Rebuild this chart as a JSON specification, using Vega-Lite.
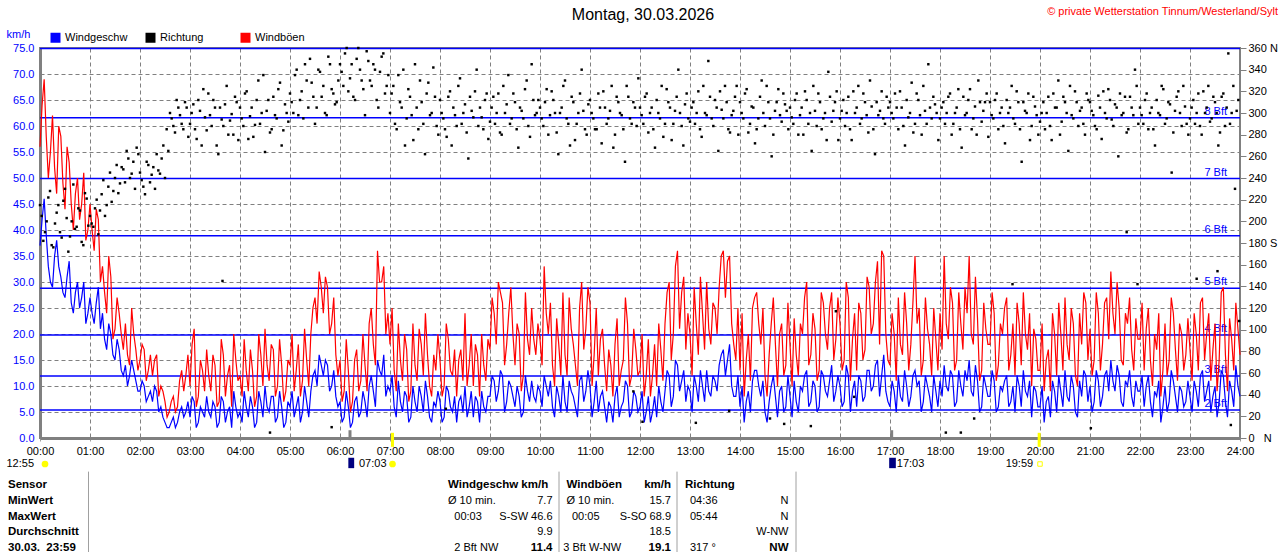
{
  "$schema": "https://vega.github.io/schema/vega-lite/v6.json",
  "width": 1200,
  "height": 390,
  "autosize": {"type": "none"},
  "padding": {"left": 40, "top": 48, "right": 40, "bottom": 114},
  "background": "#ffffff",
  "config": {
    "font": "Liberation Sans",
    "view": {"stroke": "#808080", "strokeWidth": 2},
    "axis": {"labelFont": "Liberation Sans", "titleFont": "Liberation Sans"},
    "text": {"font": "Liberation Sans"}
  },
  "datasets": {
    "bft": [
      {"v": 5.4, "l": "2 Bft"}, {"v": 11.9, "l": "3 Bft"}, {"v": 19.8, "l": "4 Bft"}, {"v": 28.8, "l": "5 Bft"},
      {"v": 38.9, "l": "6 Bft"}, {"v": 49.9, "l": "7 Bft"}, {"v": 61.6, "l": "8 Bft"}, {"v": 74.9, "l": ""}
    ],
    "wind": [
      {"m":0,"s":37,"g":56},{"m":5,"s":46,"g":69},{"m":10,"s":33,"g":50},{"m":15,"s":29,"g":62},{"m":20,"s":38,"g":47},{"m":25,"s":31,"g":58},{"m":30,"s":27,"g":44},{"m":35,"s":34,"g":53},{"m":40,"s":24,"g":40},{"m":45,"s":30,"g":50},{"m":50,"s":27,"g":45},{"m":55,"s":22,"g":38},
      {"m":60,"s":27,"g":45},{"m":65,"s":22,"g":36},{"m":70,"s":29,"g":42},{"m":75,"s":24,"g":33},{"m":80,"s":17,"g":24},{"m":85,"s":20,"g":31},{"m":90,"s":15,"g":21},{"m":95,"s":17,"g":24},{"m":100,"s":12,"g":17},{"m":105,"s":10,"g":16},{"m":110,"s":15,"g":25},{"m":115,"s":11,"g":17},
      {"m":120,"s":9,"g":15},{"m":125,"s":10,"g":17},{"m":130,"s":8,"g":13},{"m":135,"s":7,"g":12},{"m":140,"s":9,"g":16},{"m":145,"s":6,"g":10},{"m":150,"s":3,"g":7},{"m":155,"s":2,"g":5},{"m":160,"s":4,"g":8},{"m":165,"s":3,"g":6},{"m":170,"s":6,"g":13},{"m":175,"s":5,"g":12},
      {"m":180,"s":4,"g":10},{"m":185,"s":7,"g":21},{"m":190,"s":3,"g":8},{"m":195,"s":5,"g":13},{"m":200,"s":8,"g":17},{"m":205,"s":4,"g":9},{"m":210,"s":6,"g":14},{"m":215,"s":3,"g":7},{"m":220,"s":7,"g":16},{"m":225,"s":5,"g":12},{"m":230,"s":2,"g":6},{"m":235,"s":6,"g":15},
      {"m":240,"s":5,"g":12},{"m":245,"s":9,"g":19},{"m":250,"s":4,"g":9},{"m":255,"s":6,"g":13},{"m":260,"s":3,"g":8},{"m":265,"s":7,"g":16},{"m":270,"s":10,"g":21},{"m":275,"s":5,"g":11},{"m":280,"s":8,"g":17},{"m":285,"s":4,"g":10},{"m":290,"s":6,"g":14},{"m":295,"s":3,"g":9},
      {"m":300,"s":6,"g":14},{"m":305,"s":4,"g":9},{"m":310,"s":8,"g":18},{"m":315,"s":5,"g":11},{"m":320,"s":7,"g":15},{"m":325,"s":9,"g":20},{"m":330,"s":13,"g":27},{"m":335,"s":16,"g":32},{"m":340,"s":12,"g":24},{"m":345,"s":14,"g":29},{"m":350,"s":10,"g":22},{"m":355,"s":8,"g":16},
      {"m":360,"s":7,"g":15},{"m":365,"s":4,"g":9},{"m":370,"s":6,"g":13},{"m":375,"s":3,"g":7},{"m":380,"s":8,"g":17},{"m":385,"s":5,"g":11},{"m":390,"s":7,"g":14},{"m":395,"s":10,"g":22},{"m":400,"s":9,"g":18},{"m":405,"s":15,"g":36},{"m":410,"s":12,"g":30},{"m":415,"s":8,"g":20},
      {"m":420,"s":9,"g":18},{"m":425,"s":6,"g":13},{"m":430,"s":11,"g":22},{"m":435,"s":5,"g":11},{"m":440,"s":8,"g":17},{"m":445,"s":4,"g":9},{"m":450,"s":7,"g":14},{"m":455,"s":10,"g":21},{"m":460,"s":5,"g":12},{"m":465,"s":8,"g":16},{"m":470,"s":3,"g":8},{"m":475,"s":6,"g":13},
      {"m":480,"s":7,"g":15},{"m":485,"s":4,"g":10},{"m":490,"s":9,"g":19},{"m":495,"s":5,"g":12},{"m":500,"s":3,"g":8},{"m":505,"s":8,"g":17},{"m":510,"s":10,"g":24},{"m":515,"s":6,"g":14},{"m":520,"s":4,"g":10},{"m":525,"s":7,"g":16},{"m":530,"s":9,"g":20},{"m":535,"s":5,"g":11},
      {"m":540,"s":8,"g":17},{"m":545,"s":11,"g":24},{"m":550,"s":9,"g":30},{"m":555,"s":12,"g":26},{"m":560,"s":7,"g":18},{"m":565,"s":10,"g":29},{"m":570,"s":6,"g":14},{"m":575,"s":8,"g":20},{"m":580,"s":5,"g":12},{"m":585,"s":9,"g":19},{"m":590,"s":11,"g":25},{"m":595,"s":7,"g":16},
      {"m":600,"s":9,"g":19},{"m":605,"s":12,"g":33},{"m":610,"s":8,"g":20},{"m":615,"s":6,"g":14},{"m":620,"s":10,"g":23},{"m":625,"s":5,"g":12},{"m":630,"s":7,"g":16},{"m":635,"s":11,"g":27},{"m":640,"s":8,"g":18},{"m":645,"s":4,"g":10},{"m":650,"s":12,"g":30},{"m":655,"s":9,"g":21},
      {"m":660,"s":10,"g":26},{"m":665,"s":7,"g":16},{"m":670,"s":5,"g":12},{"m":675,"s":9,"g":21},{"m":680,"s":3,"g":9},{"m":685,"s":6,"g":14},{"m":690,"s":8,"g":18},{"m":695,"s":4,"g":10},{"m":700,"s":7,"g":15},{"m":705,"s":10,"g":22},{"m":710,"s":5,"g":12},{"m":715,"s":8,"g":17},
      {"m":720,"s":6,"g":13},{"m":725,"s":3,"g":8},{"m":730,"s":8,"g":19},{"m":735,"s":5,"g":12},{"m":740,"s":4,"g":10},{"m":745,"s":7,"g":17},{"m":750,"s":9,"g":22},{"m":755,"s":12,"g":30},{"m":760,"s":8,"g":20},{"m":765,"s":14,"g":36},{"m":770,"s":11,"g":28},{"m":775,"s":7,"g":17},
      {"m":780,"s":9,"g":20},{"m":785,"s":12,"g":29},{"m":790,"s":7,"g":16},{"m":795,"s":10,"g":24},{"m":800,"s":13,"g":30},{"m":805,"s":8,"g":18},{"m":810,"s":11,"g":25},{"m":815,"s":14,"g":29},{"m":820,"s":17,"g":36},{"m":825,"s":15,"g":34},{"m":830,"s":10,"g":22},{"m":835,"s":8,"g":15},
      {"m":840,"s":6,"g":13},{"m":845,"s":3,"g":8},{"m":850,"s":9,"g":20},{"m":855,"s":11,"g":25},{"m":860,"s":13,"g":28},{"m":865,"s":8,"g":18},{"m":870,"s":5,"g":12},{"m":875,"s":7,"g":16},{"m":880,"s":12,"g":27},{"m":885,"s":4,"g":10},{"m":890,"s":10,"g":22},{"m":895,"s":6,"g":14},
      {"m":900,"s":8,"g":18},{"m":905,"s":11,"g":23},{"m":910,"s":5,"g":12},{"m":915,"s":9,"g":20},{"m":920,"s":13,"g":30},{"m":925,"s":7,"g":16},{"m":930,"s":10,"g":21},{"m":935,"s":6,"g":13},{"m":940,"s":12,"g":26},{"m":945,"s":8,"g":17},{"m":950,"s":14,"g":28},{"m":955,"s":9,"g":19},
      {"m":960,"s":10,"g":22},{"m":965,"s":7,"g":15},{"m":970,"s":12,"g":27},{"m":975,"s":9,"g":19},{"m":980,"s":6,"g":13},{"m":985,"s":11,"g":24},{"m":990,"s":8,"g":17},{"m":995,"s":13,"g":29},{"m":1000,"s":10,"g":22},{"m":1005,"s":15,"g":34},{"m":1010,"s":12,"g":36},{"m":1015,"s":9,"g":20},
      {"m":1020,"s":6,"g":14},{"m":1025,"s":9,"g":20},{"m":1030,"s":12,"g":27},{"m":1035,"s":7,"g":16},{"m":1040,"s":10,"g":22},{"m":1045,"s":8,"g":18},{"m":1050,"s":13,"g":35},{"m":1055,"s":11,"g":25},{"m":1060,"s":7,"g":15},{"m":1065,"s":10,"g":21},{"m":1070,"s":5,"g":12},{"m":1075,"s":9,"g":19},
      {"m":1080,"s":11,"g":24},{"m":1085,"s":14,"g":35},{"m":1090,"s":9,"g":19},{"m":1095,"s":12,"g":26},{"m":1100,"s":7,"g":15},{"m":1105,"s":10,"g":22},{"m":1110,"s":13,"g":29},{"m":1115,"s":15,"g":35},{"m":1120,"s":8,"g":18},{"m":1125,"s":11,"g":23},{"m":1130,"s":6,"g":13},{"m":1135,"s":10,"g":21},
      {"m":1140,"s":8,"g":18},{"m":1145,"s":11,"g":24},{"m":1150,"s":6,"g":14},{"m":1155,"s":9,"g":20},{"m":1160,"s":12,"g":27},{"m":1165,"s":7,"g":16},{"m":1170,"s":5,"g":12},{"m":1175,"s":10,"g":22},{"m":1180,"s":13,"g":28},{"m":1185,"s":8,"g":17},{"m":1190,"s":4,"g":10},{"m":1195,"s":9,"g":19},
      {"m":1200,"s":6,"g":13},{"m":1205,"s":3,"g":9},{"m":1210,"s":8,"g":17},{"m":1215,"s":11,"g":24},{"m":1220,"s":5,"g":12},{"m":1225,"s":9,"g":20},{"m":1230,"s":13,"g":27},{"m":1235,"s":7,"g":15},{"m":1240,"s":10,"g":22},{"m":1245,"s":4,"g":10},{"m":1250,"s":8,"g":18},{"m":1255,"s":12,"g":26},
      {"m":1260,"s":10,"g":21},{"m":1265,"s":7,"g":15},{"m":1270,"s":11,"g":24},{"m":1275,"s":8,"g":18},{"m":1280,"s":13,"g":27},{"m":1285,"s":15,"g":32},{"m":1290,"s":9,"g":20},{"m":1295,"s":12,"g":25},{"m":1300,"s":6,"g":14},{"m":1305,"s":10,"g":22},{"m":1310,"s":8,"g":17},{"m":1315,"s":11,"g":23},
      {"m":1320,"s":9,"g":19},{"m":1325,"s":6,"g":13},{"m":1330,"s":12,"g":25},{"m":1335,"s":4,"g":10},{"m":1340,"s":8,"g":17},{"m":1345,"s":3,"g":8},{"m":1350,"s":10,"g":22},{"m":1355,"s":7,"g":15},{"m":1360,"s":11,"g":24},{"m":1365,"s":5,"g":11},{"m":1370,"s":9,"g":20},{"m":1375,"s":7,"g":16},
      {"m":1380,"s":8,"g":17},{"m":1385,"s":11,"g":24},{"m":1390,"s":6,"g":13},{"m":1395,"s":13,"g":27},{"m":1400,"s":9,"g":20},{"m":1405,"s":5,"g":11},{"m":1410,"s":10,"g":22},{"m":1415,"s":7,"g":15},{"m":1420,"s":12,"g":29},{"m":1425,"s":4,"g":9},{"m":1430,"s":9,"g":19},{"m":1435,"s":14,"g":26},{"m":1440,"s":8,"g":16},
      {"m":2.5,"s":42,"g":64},{"m":7.5,"s":39,"g":58},{"m":12.5,"s":30,"g":55},{"m":17.5,"s":35,"g":52},{"m":22.5,"s":33,"g":60},{"m":27.5,"s":28,"g":49},{"m":32.5,"s":31,"g":56},{"m":37.5,"s":26,"g":45},{"m":42.5,"s":28,"g":47},{"m":47.5,"s":25,"g":42},{"m":52.5,"s":30,"g":51},{"m":57.5,"s":24,"g":40},
      {"m":62.5,"s":24,"g":40},{"m":67.5,"s":26,"g":44},{"m":72.5,"s":21,"g":30},{"m":77.5,"s":19,"g":28},{"m":82.5,"s":22,"g":35},{"m":87.5,"s":16,"g":19},{"m":92.5,"s":19,"g":27},{"m":97.5,"s":13,"g":20},{"m":102.5,"s":14,"g":22},{"m":107.5,"s":12,"g":14},{"m":112.5,"s":13,"g":20},{"m":117.5,"s":9,"g":13},
      {"m":122.5,"s":11,"g":18},{"m":127.5,"s":7,"g":11},{"m":132.5,"s":9,"g":16},{"m":137.5,"s":10,"g":15},{"m":142.5,"s":5,"g":8},{"m":147.5,"s":4,"g":9},{"m":152.5,"s":2,"g":4},{"m":157.5,"s":3,"g":7},{"m":162.5,"s":2,"g":5},{"m":167.5,"s":5,"g":11},{"m":172.5,"s":4,"g":9},{"m":177.5,"s":7,"g":16},
      {"m":182.5,"s":8,"g":18},{"m":187.5,"s":2,"g":6},{"m":192.5,"s":6,"g":15},{"m":197.5,"s":4,"g":9},{"m":202.5,"s":5,"g":12},{"m":207.5,"s":7,"g":16},{"m":212.5,"s":2,"g":6},{"m":217.5,"s":8,"g":19},{"m":222.5,"s":3,"g":8},{"m":227.5,"s":6,"g":14},{"m":232.5,"s":9,"g":20},{"m":237.5,"s":4,"g":11},
      {"m":242.5,"s":3,"g":8},{"m":247.5,"s":6,"g":13},{"m":252.5,"s":8,"g":17},{"m":257.5,"s":2,"g":6},{"m":262.5,"s":9,"g":20},{"m":267.5,"s":4,"g":10},{"m":272.5,"s":6,"g":14},{"m":277.5,"s":8,"g":18},{"m":282.5,"s":3,"g":8},{"m":287.5,"s":9,"g":19},{"m":292.5,"s":2,"g":7},{"m":297.5,"s":7,"g":15},
      {"m":302.5,"s":9,"g":20},{"m":307.5,"s":6,"g":13},{"m":312.5,"s":3,"g":8},{"m":317.5,"s":10,"g":21},{"m":322.5,"s":4,"g":10},{"m":327.5,"s":12,"g":25},{"m":332.5,"s":10,"g":22},{"m":337.5,"s":14,"g":29},{"m":342.5,"s":15,"g":31},{"m":347.5,"s":9,"g":20},{"m":352.5,"s":13,"g":27},{"m":357.5,"s":6,"g":12},
      {"m":362.5,"s":3,"g":7},{"m":367.5,"s":9,"g":19},{"m":372.5,"s":2,"g":5},{"m":377.5,"s":7,"g":15},{"m":382.5,"s":4,"g":9},{"m":387.5,"s":9,"g":20},{"m":392.5,"s":4,"g":9},{"m":397.5,"s":12,"g":25},{"m":402.5,"s":6,"g":14},{"m":407.5,"s":13,"g":30},{"m":412.5,"s":16,"g":33},{"m":417.5,"s":10,"g":24},
      {"m":422.5,"s":12,"g":25},{"m":427.5,"s":4,"g":9},{"m":432.5,"s":7,"g":15},{"m":437.5,"s":9,"g":20},{"m":442.5,"s":3,"g":7},{"m":447.5,"s":10,"g":22},{"m":452.5,"s":5,"g":11},{"m":457.5,"s":8,"g":18},{"m":462.5,"s":11,"g":24},{"m":467.5,"s":4,"g":10},{"m":472.5,"s":7,"g":16},{"m":477.5,"s":9,"g":20},
      {"m":482.5,"s":3,"g":8},{"m":487.5,"s":10,"g":22},{"m":492.5,"s":6,"g":13},{"m":497.5,"s":8,"g":17},{"m":502.5,"s":7,"g":15},{"m":507.5,"s":5,"g":11},{"m":512.5,"s":4,"g":10},{"m":517.5,"s":9,"g":20},{"m":522.5,"s":8,"g":18},{"m":527.5,"s":3,"g":8},{"m":532.5,"s":6,"g":14},{"m":537.5,"s":8,"g":19},
      {"m":542.5,"s":12,"g":27},{"m":547.5,"s":7,"g":18},{"m":552.5,"s":13,"g":28},{"m":557.5,"s":5,"g":14},{"m":562.5,"s":11,"g":24},{"m":567.5,"s":8,"g":20},{"m":572.5,"s":10,"g":22},{"m":577.5,"s":4,"g":9},{"m":582.5,"s":12,"g":28},{"m":587.5,"s":7,"g":16},{"m":592.5,"s":8,"g":19},{"m":597.5,"s":10,"g":22},
      {"m":602.5,"s":6,"g":14},{"m":607.5,"s":10,"g":24},{"m":612.5,"s":11,"g":26},{"m":617.5,"s":4,"g":10},{"m":622.5,"s":8,"g":18},{"m":627.5,"s":12,"g":28},{"m":632.5,"s":5,"g":12},{"m":637.5,"s":9,"g":21},{"m":642.5,"s":6,"g":14},{"m":647.5,"s":11,"g":25},{"m":652.5,"s":7,"g":17},{"m":657.5,"s":13,"g":29},
      {"m":662.5,"s":4,"g":10},{"m":667.5,"s":11,"g":25},{"m":672.5,"s":8,"g":19},{"m":677.5,"s":6,"g":14},{"m":682.5,"s":7,"g":17},{"m":687.5,"s":3,"g":8},{"m":692.5,"s":10,"g":23},{"m":697.5,"s":6,"g":13},{"m":702.5,"s":11,"g":27},{"m":707.5,"s":4,"g":10},{"m":712.5,"s":9,"g":21},{"m":717.5,"s":5,"g":12},
      {"m":722.5,"s":9,"g":20},{"m":727.5,"s":5,"g":12},{"m":732.5,"s":3,"g":8},{"m":737.5,"s":8,"g":18},{"m":742.5,"s":10,"g":22},{"m":747.5,"s":5,"g":11},{"m":752.5,"s":13,"g":28},{"m":757.5,"s":6,"g":15},{"m":762.5,"s":15,"g":33},{"m":767.5,"s":9,"g":21},{"m":772.5,"s":13,"g":31},{"m":777.5,"s":10,"g":24},
      {"m":782.5,"s":5,"g":12},{"m":787.5,"s":10,"g":22},{"m":792.5,"s":13,"g":31},{"m":797.5,"s":7,"g":17},{"m":802.5,"s":9,"g":21},{"m":807.5,"s":12,"g":26},{"m":812.5,"s":9,"g":20},{"m":817.5,"s":16,"g":35},{"m":822.5,"s":12,"g":27},{"m":827.5,"s":18,"g":35},{"m":832.5,"s":8,"g":18},{"m":837.5,"s":12,"g":25},
      {"m":842.5,"s":10,"g":24},{"m":847.5,"s":7,"g":15},{"m":852.5,"s":5,"g":11},{"m":857.5,"s":13,"g":27},{"m":862.5,"s":10,"g":22},{"m":867.5,"s":11,"g":25},{"m":872.5,"s":3,"g":8},{"m":877.5,"s":10,"g":22},{"m":882.5,"s":8,"g":18},{"m":887.5,"s":9,"g":20},{"m":892.5,"s":5,"g":12},{"m":897.5,"s":12,"g":26},
      {"m":902.5,"s":4,"g":10},{"m":907.5,"s":7,"g":16},{"m":912.5,"s":10,"g":22},{"m":917.5,"s":12,"g":27},{"m":922.5,"s":6,"g":14},{"m":927.5,"s":11,"g":24},{"m":932.5,"s":5,"g":11},{"m":937.5,"s":13,"g":28},{"m":942.5,"s":9,"g":20},{"m":947.5,"s":11,"g":25},{"m":952.5,"s":7,"g":15},{"m":957.5,"s":12,"g":27},
      {"m":962.5,"s":6,"g":13},{"m":967.5,"s":14,"g":30},{"m":972.5,"s":5,"g":11},{"m":977.5,"s":11,"g":24},{"m":982.5,"s":12,"g":26},{"m":987.5,"s":7,"g":15},{"m":992.5,"s":13,"g":31},{"m":997.5,"s":9,"g":20},{"m":1002.5,"s":14,"g":30},{"m":1007.5,"s":8,"g":18},{"m":1012.5,"s":16,"g":35},{"m":1017.5,"s":7,"g":15},
      {"m":1022.5,"s":11,"g":24},{"m":1027.5,"s":5,"g":11},{"m":1032.5,"s":8,"g":18},{"m":1037.5,"s":13,"g":28},{"m":1042.5,"s":6,"g":13},{"m":1047.5,"s":12,"g":26},{"m":1052.5,"s":10,"g":22},{"m":1057.5,"s":5,"g":12},{"m":1062.5,"s":12,"g":27},{"m":1067.5,"s":8,"g":18},{"m":1072.5,"s":12,"g":25},{"m":1077.5,"s":6,"g":13},
      {"m":1082.5,"s":8,"g":17},{"m":1087.5,"s":10,"g":22},{"m":1092.5,"s":13,"g":29},{"m":1097.5,"s":6,"g":13},{"m":1102.5,"s":13,"g":28},{"m":1107.5,"s":8,"g":17},{"m":1112.5,"s":11,"g":24},{"m":1117.5,"s":9,"g":20},{"m":1122.5,"s":14,"g":31},{"m":1127.5,"s":5,"g":11},{"m":1132.5,"s":12,"g":26},{"m":1137.5,"s":8,"g":18},
      {"m":1142.5,"s":13,"g":28},{"m":1147.5,"s":5,"g":11},{"m":1152.5,"s":10,"g":22},{"m":1157.5,"s":11,"g":25},{"m":1162.5,"s":6,"g":13},{"m":1167.5,"s":10,"g":22},{"m":1172.5,"s":12,"g":26},{"m":1177.5,"s":6,"g":14},{"m":1182.5,"s":9,"g":20},{"m":1187.5,"s":11,"g":24},{"m":1192.5,"s":10,"g":21},{"m":1197.5,"s":6,"g":13},
      {"m":1202.5,"s":10,"g":22},{"m":1207.5,"s":7,"g":15},{"m":1212.5,"s":4,"g":9},{"m":1217.5,"s":9,"g":20},{"m":1222.5,"s":12,"g":26},{"m":1227.5,"s":6,"g":13},{"m":1232.5,"s":8,"g":18},{"m":1237.5,"s":12,"g":25},{"m":1242.5,"s":5,"g":12},{"m":1247.5,"s":11,"g":24},{"m":1252.5,"s":13,"g":28},{"m":1257.5,"s":7,"g":15},
      {"m":1262.5,"s":5,"g":12},{"m":1267.5,"s":13,"g":28},{"m":1272.5,"s":6,"g":13},{"m":1277.5,"s":12,"g":26},{"m":1282.5,"s":9,"g":19},{"m":1287.5,"s":11,"g":24},{"m":1292.5,"s":14,"g":30},{"m":1297.5,"s":7,"g":15},{"m":1302.5,"s":11,"g":24},{"m":1307.5,"s":13,"g":27},{"m":1312.5,"s":6,"g":13},{"m":1317.5,"s":9,"g":19},
      {"m":1322.5,"s":12,"g":26},{"m":1327.5,"s":10,"g":21},{"m":1332.5,"s":7,"g":15},{"m":1337.5,"s":9,"g":20},{"m":1342.5,"s":11,"g":24},{"m":1347.5,"s":6,"g":13},{"m":1352.5,"s":5,"g":12},{"m":1357.5,"s":13,"g":27},{"m":1362.5,"s":8,"g":17},{"m":1367.5,"s":10,"g":22},{"m":1372.5,"s":6,"g":13},{"m":1377.5,"s":11,"g":23},
      {"m":1382.5,"s":5,"g":11},{"m":1387.5,"s":9,"g":20},{"m":1392.5,"s":12,"g":26},{"m":1397.5,"s":7,"g":15},{"m":1402.5,"s":11,"g":24},{"m":1407.5,"s":8,"g":17},{"m":1412.5,"s":4,"g":9},{"m":1417.5,"s":13,"g":28},{"m":1422.5,"s":7,"g":16},{"m":1427.5,"s":11,"g":23},{"m":1432.5,"s":6,"g":13},{"m":1437.5,"s":10,"g":21}
    ],
    "dir": [
      {"m":2,"d":205},{"m":6,"d":190},{"m":10,"d":222},{"m":14,"d":178},{"m":18,"d":198},{"m":22,"d":215},{"m":26,"d":185},{"m":30,"d":230},{"m":34,"d":172},{"m":38,"d":200},{"m":42,"d":193},{"m":46,"d":212},{"m":50,"d":181},{"m":54,"d":226},{"m":58,"d":196},
      {"m":62,"d":198},{"m":66,"d":212},{"m":70,"d":188},{"m":74,"d":225},{"m":78,"d":205},{"m":82,"d":232},{"m":86,"d":218},{"m":90,"d":240},{"m":94,"d":226},{"m":98,"d":250},{"m":102,"d":236},{"m":106,"d":258},{"m":110,"d":244},{"m":114,"d":230},{"m":118,"d":262},
      {"m":122,"d":238},{"m":126,"d":225},{"m":130,"d":252},{"m":134,"d":243},{"m":138,"d":230},{"m":142,"d":247},{"m":146,"d":258},{"m":150,"d":240},{"m":154,"d":265},{"m":158,"d":295},{"m":162,"d":282},{"m":166,"d":305},{"m":170,"d":290},{"m":174,"d":310},{"m":178,"d":278},
      {"m":182,"d":300},{"m":186,"d":285},{"m":190,"d":312},{"m":194,"d":270},{"m":198,"d":296},{"m":202,"d":318},{"m":206,"d":288},{"m":210,"d":305},{"m":214,"d":262},{"m":218,"d":294},{"m":222,"d":308},{"m":226,"d":280},{"m":230,"d":299},{"m":234,"d":315},{"m":238,"d":275},
      {"m":242,"d":295},{"m":246,"d":318},{"m":250,"d":276},{"m":254,"d":305},{"m":258,"d":289},{"m":262,"d":330},{"m":266,"d":300},{"m":270,"d":264},{"m":274,"d":312},{"m":278,"d":285},{"m":282,"d":298},{"m":286,"d":322},{"m":290,"d":270},{"m":294,"d":308},{"m":298,"d":292},
      {"m":302,"d":310},{"m":306,"d":335},{"m":310,"d":298},{"m":314,"d":320},{"m":318,"d":345},{"m":322,"d":305},{"m":326,"d":328},{"m":330,"d":290},{"m":334,"d":340},{"m":338,"d":315},{"m":342,"d":300},{"m":346,"d":352},{"m":350,"d":322},{"m":354,"d":308},{"m":358,"d":330},
      {"m":362,"d":338},{"m":366,"d":355},{"m":370,"d":320},{"m":374,"d":345},{"m":378,"d":312},{"m":382,"d":360},{"m":386,"d":330},{"m":390,"d":298},{"m":394,"d":348},{"m":398,"d":325},{"m":402,"d":340},{"m":406,"d":305},{"m":410,"d":352},{"m":414,"d":318},{"m":418,"d":335},
      {"m":422,"d":318},{"m":426,"d":290},{"m":430,"d":335},{"m":434,"d":305},{"m":438,"d":270},{"m":442,"d":322},{"m":446,"d":298},{"m":450,"d":345},{"m":454,"d":285},{"m":458,"d":310},{"m":462,"d":262},{"m":466,"d":328},{"m":470,"d":300},{"m":474,"d":315},{"m":478,"d":280},
      {"m":482,"d":300},{"m":486,"d":285},{"m":490,"d":315},{"m":494,"d":270},{"m":498,"d":298},{"m":502,"d":325},{"m":506,"d":290},{"m":510,"d":308},{"m":514,"d":258},{"m":518,"d":302},{"m":522,"d":320},{"m":526,"d":288},{"m":530,"d":296},{"m":534,"d":312},{"m":538,"d":276},
      {"m":542,"d":305},{"m":546,"d":290},{"m":550,"d":318},{"m":554,"d":280},{"m":558,"d":300},{"m":562,"d":335},{"m":566,"d":295},{"m":570,"d":310},{"m":574,"d":268},{"m":578,"d":302},{"m":582,"d":322},{"m":586,"d":288},{"m":590,"d":345},{"m":594,"d":298},{"m":598,"d":312},
      {"m":602,"d":295},{"m":606,"d":310},{"m":610,"d":280},{"m":614,"d":320},{"m":618,"d":300},{"m":622,"d":262},{"m":626,"d":305},{"m":630,"d":330},{"m":634,"d":290},{"m":638,"d":315},{"m":642,"d":275},{"m":646,"d":300},{"m":650,"d":340},{"m":654,"d":285},{"m":658,"d":308},
      {"m":662,"d":300},{"m":666,"d":285},{"m":670,"d":318},{"m":674,"d":272},{"m":678,"d":305},{"m":682,"d":295},{"m":686,"d":325},{"m":690,"d":280},{"m":694,"d":310},{"m":698,"d":298},{"m":702,"d":255},{"m":706,"d":315},{"m":710,"d":290},{"m":714,"d":305},{"m":718,"d":332},
      {"m":722,"d":298},{"m":726,"d":315},{"m":730,"d":282},{"m":734,"d":305},{"m":738,"d":268},{"m":742,"d":300},{"m":746,"d":325},{"m":750,"d":290},{"m":754,"d":310},{"m":758,"d":275},{"m":762,"d":302},{"m":766,"d":340},{"m":770,"d":288},{"m":774,"d":308},{"m":778,"d":295},
      {"m":782,"d":305},{"m":786,"d":290},{"m":790,"d":320},{"m":794,"d":278},{"m":798,"d":300},{"m":802,"d":348},{"m":806,"d":295},{"m":810,"d":312},{"m":814,"d":265},{"m":818,"d":303},{"m":822,"d":325},{"m":826,"d":285},{"m":830,"d":298},{"m":834,"d":315},{"m":838,"d":280},
      {"m":842,"d":300},{"m":846,"d":318},{"m":850,"d":282},{"m":854,"d":306},{"m":858,"d":272},{"m":862,"d":295},{"m":866,"d":330},{"m":870,"d":288},{"m":874,"d":310},{"m":878,"d":260},{"m":882,"d":302},{"m":886,"d":322},{"m":890,"d":292},{"m":894,"d":308},{"m":898,"d":285},
      {"m":902,"d":296},{"m":906,"d":312},{"m":910,"d":280},{"m":914,"d":305},{"m":918,"d":320},{"m":922,"d":290},{"m":926,"d":265},{"m":930,"d":302},{"m":934,"d":318},{"m":938,"d":285},{"m":942,"d":300},{"m":946,"d":338},{"m":950,"d":292},{"m":954,"d":310},{"m":958,"d":275},
      {"m":962,"d":302},{"m":966,"d":288},{"m":970,"d":315},{"m":974,"d":275},{"m":978,"d":300},{"m":982,"d":325},{"m":986,"d":295},{"m":990,"d":310},{"m":994,"d":282},{"m":998,"d":306},{"m":1002,"d":262},{"m":1006,"d":298},{"m":1010,"d":320},{"m":1014,"d":290},{"m":1018,"d":305},
      {"m":1022,"d":300},{"m":1026,"d":318},{"m":1030,"d":285},{"m":1034,"d":305},{"m":1038,"d":270},{"m":1042,"d":296},{"m":1046,"d":328},{"m":1050,"d":290},{"m":1054,"d":312},{"m":1058,"d":280},{"m":1062,"d":302},{"m":1066,"d":345},{"m":1070,"d":295},{"m":1074,"d":308},{"m":1078,"d":275},
      {"m":1082,"d":305},{"m":1086,"d":290},{"m":1090,"d":315},{"m":1094,"d":280},{"m":1098,"d":300},{"m":1102,"d":322},{"m":1106,"d":268},{"m":1110,"d":298},{"m":1114,"d":312},{"m":1118,"d":285},{"m":1122,"d":306},{"m":1126,"d":330},{"m":1130,"d":292},{"m":1134,"d":310},{"m":1138,"d":278},
      {"m":1142,"d":298},{"m":1146,"d":312},{"m":1150,"d":285},{"m":1154,"d":305},{"m":1158,"d":272},{"m":1162,"d":300},{"m":1166,"d":325},{"m":1170,"d":290},{"m":1174,"d":310},{"m":1178,"d":255},{"m":1182,"d":302},{"m":1186,"d":318},{"m":1190,"d":288},{"m":1194,"d":306},{"m":1198,"d":280},
      {"m":1202,"d":300},{"m":1206,"d":285},{"m":1210,"d":315},{"m":1214,"d":275},{"m":1218,"d":305},{"m":1222,"d":330},{"m":1226,"d":292},{"m":1230,"d":310},{"m":1234,"d":265},{"m":1238,"d":298},{"m":1242,"d":320},{"m":1246,"d":288},{"m":1250,"d":305},{"m":1254,"d":280},{"m":1258,"d":312},
      {"m":1262,"d":302},{"m":1266,"d":288},{"m":1270,"d":316},{"m":1274,"d":276},{"m":1278,"d":300},{"m":1282,"d":322},{"m":1286,"d":294},{"m":1290,"d":308},{"m":1294,"d":260},{"m":1298,"d":298},{"m":1302,"d":315},{"m":1306,"d":285},{"m":1310,"d":305},{"m":1314,"d":340},{"m":1318,"d":290},
      {"m":1322,"d":298},{"m":1326,"d":312},{"m":1330,"d":285},{"m":1334,"d":305},{"m":1338,"d":270},{"m":1342,"d":300},{"m":1346,"d":325},{"m":1350,"d":290},{"m":1354,"d":310},{"m":1358,"d":245},{"m":1362,"d":302},{"m":1366,"d":320},{"m":1370,"d":288},{"m":1374,"d":306},{"m":1378,"d":280},
      {"m":1382,"d":305},{"m":1386,"d":290},{"m":1390,"d":318},{"m":1394,"d":280},{"m":1398,"d":300},{"m":1402,"d":325},{"m":1406,"d":295},{"m":1410,"d":310},{"m":1414,"d":270},{"m":1418,"d":315},{"m":1422,"d":288},{"m":1426,"d":355},{"m":1430,"d":300},{"m":1434,"d":230},{"m":1438,"d":312},
      {"m":0,"d":215},{"m":4,"d":182},{"m":8,"d":200},{"m":12,"d":228},{"m":16,"d":176},{"m":20,"d":208},{"m":24,"d":190},{"m":28,"d":219},{"m":32,"d":203},{"m":36,"d":186},{"m":40,"d":234},{"m":44,"d":195},{"m":48,"d":210},{"m":52,"d":178},{"m":56,"d":221},
      {"m":60,"d":205},{"m":64,"d":195},{"m":68,"d":220},{"m":72,"d":210},{"m":76,"d":238},{"m":80,"d":215},{"m":84,"d":245},{"m":88,"d":228},{"m":92,"d":252},{"m":96,"d":235},{"m":100,"d":248},{"m":104,"d":265},{"m":108,"d":240},{"m":112,"d":255},{"m":116,"d":268},
      {"m":120,"d":245},{"m":124,"d":232},{"m":128,"d":255},{"m":132,"d":236},{"m":136,"d":250},{"m":140,"d":262},{"m":144,"d":244},{"m":148,"d":270},{"m":152,"d":285},{"m":156,"d":300},{"m":160,"d":288},{"m":164,"d":312},{"m":168,"d":298},{"m":172,"d":285},{"m":176,"d":305},
      {"m":180,"d":290},{"m":184,"d":308},{"m":188,"d":276},{"m":192,"d":302},{"m":196,"d":322},{"m":200,"d":284},{"m":204,"d":298},{"m":208,"d":312},{"m":212,"d":270},{"m":216,"d":305},{"m":220,"d":288},{"m":224,"d":325},{"m":228,"d":293},{"m":232,"d":280},{"m":236,"d":310},
      {"m":240,"d":305},{"m":244,"d":288},{"m":248,"d":320},{"m":252,"d":297},{"m":256,"d":278},{"m":260,"d":312},{"m":264,"d":290},{"m":268,"d":335},{"m":272,"d":302},{"m":276,"d":282},{"m":280,"d":315},{"m":284,"d":295},{"m":288,"d":328},{"m":292,"d":284},{"m":296,"d":300},
      {"m":300,"d":318},{"m":304,"d":300},{"m":308,"d":340},{"m":312,"d":312},{"m":316,"d":295},{"m":320,"d":330},{"m":324,"d":350},{"m":328,"d":315},{"m":332,"d":305},{"m":336,"d":338},{"m":340,"d":325},{"m":344,"d":298},{"m":348,"d":345},{"m":352,"d":318},{"m":356,"d":310},
      {"m":360,"d":345},{"m":364,"d":325},{"m":368,"d":360},{"m":372,"d":332},{"m":376,"d":315},{"m":380,"d":350},{"m":384,"d":340},{"m":388,"d":322},{"m":392,"d":357},{"m":396,"d":330},{"m":400,"d":345},{"m":404,"d":312},{"m":408,"d":338},{"m":412,"d":355},{"m":416,"d":325},
      {"m":420,"d":300},{"m":424,"d":325},{"m":428,"d":285},{"m":432,"d":310},{"m":436,"d":340},{"m":440,"d":295},{"m":444,"d":315},{"m":448,"d":275},{"m":452,"d":305},{"m":456,"d":330},{"m":460,"d":290},{"m":464,"d":318},{"m":468,"d":298},{"m":472,"d":342},{"m":476,"d":288},
      {"m":480,"d":312},{"m":484,"d":295},{"m":488,"d":278},{"m":492,"d":320},{"m":496,"d":305},{"m":500,"d":288},{"m":504,"d":332},{"m":508,"d":300},{"m":512,"d":282},{"m":516,"d":315},{"m":520,"d":296},{"m":524,"d":340},{"m":528,"d":305},{"m":532,"d":285},{"m":536,"d":318},
      {"m":540,"d":292},{"m":544,"d":315},{"m":548,"d":300},{"m":552,"d":282},{"m":556,"d":325},{"m":560,"d":308},{"m":564,"d":290},{"m":568,"d":318},{"m":572,"d":285},{"m":576,"d":305},{"m":580,"d":295},{"m":584,"d":330},{"m":588,"d":278},{"m":592,"d":312},{"m":596,"d":300},
      {"m":600,"d":305},{"m":604,"d":288},{"m":608,"d":322},{"m":612,"d":298},{"m":616,"d":312},{"m":620,"d":282},{"m":624,"d":300},{"m":628,"d":325},{"m":632,"d":295},{"m":636,"d":270},{"m":640,"d":310},{"m":644,"d":290},{"m":648,"d":318},{"m":652,"d":302},{"m":656,"d":280},
      {"m":660,"d":312},{"m":664,"d":295},{"m":668,"d":285},{"m":672,"d":305},{"m":676,"d":320},{"m":680,"d":290},{"m":684,"d":302},{"m":688,"d":268},{"m":692,"d":315},{"m":696,"d":300},{"m":700,"d":285},{"m":704,"d":325},{"m":708,"d":295},{"m":712,"d":310},{"m":716,"d":288},
      {"m":720,"d":305},{"m":724,"d":290},{"m":728,"d":318},{"m":732,"d":300},{"m":736,"d":285},{"m":740,"d":312},{"m":744,"d":295},{"m":748,"d":278},{"m":752,"d":322},{"m":756,"d":305},{"m":760,"d":290},{"m":764,"d":315},{"m":768,"d":300},{"m":772,"d":270},{"m":776,"d":318},
      {"m":780,"d":292},{"m":784,"d":310},{"m":788,"d":300},{"m":792,"d":285},{"m":796,"d":325},{"m":800,"d":298},{"m":804,"d":315},{"m":808,"d":288},{"m":812,"d":305},{"m":816,"d":320},{"m":820,"d":295},{"m":824,"d":310},{"m":828,"d":282},{"m":832,"d":302},{"m":836,"d":325},
      {"m":840,"d":310},{"m":844,"d":295},{"m":848,"d":322},{"m":852,"d":290},{"m":856,"d":305},{"m":860,"d":285},{"m":864,"d":315},{"m":868,"d":300},{"m":872,"d":325},{"m":876,"d":295},{"m":880,"d":280},{"m":884,"d":310},{"m":888,"d":298},{"m":892,"d":318},{"m":896,"d":302},
      {"m":900,"d":305},{"m":904,"d":290},{"m":908,"d":318},{"m":912,"d":298},{"m":916,"d":280},{"m":920,"d":312},{"m":924,"d":300},{"m":928,"d":325},{"m":932,"d":288},{"m":936,"d":310},{"m":940,"d":295},{"m":944,"d":275},{"m":948,"d":315},{"m":952,"d":302},{"m":956,"d":320},
      {"m":960,"d":295},{"m":964,"d":312},{"m":968,"d":300},{"m":972,"d":285},{"m":976,"d":320},{"m":980,"d":305},{"m":984,"d":290},{"m":988,"d":318},{"m":992,"d":298},{"m":996,"d":330},{"m":1000,"d":285},{"m":1004,"d":310},{"m":1008,"d":302},{"m":1012,"d":295},{"m":1016,"d":315},
      {"m":1020,"d":310},{"m":1024,"d":295},{"m":1028,"d":305},{"m":1032,"d":320},{"m":1036,"d":288},{"m":1040,"d":312},{"m":1044,"d":300},{"m":1048,"d":282},{"m":1052,"d":318},{"m":1056,"d":298},{"m":1060,"d":325},{"m":1064,"d":290},{"m":1068,"d":305},{"m":1072,"d":315},{"m":1076,"d":300},
      {"m":1080,"d":295},{"m":1084,"d":310},{"m":1088,"d":300},{"m":1092,"d":318},{"m":1096,"d":290},{"m":1100,"d":305},{"m":1104,"d":285},{"m":1108,"d":315},{"m":1112,"d":300},{"m":1116,"d":322},{"m":1120,"d":295},{"m":1124,"d":280},{"m":1128,"d":310},{"m":1132,"d":302},{"m":1136,"d":318},
      {"m":1140,"d":310},{"m":1144,"d":295},{"m":1148,"d":318},{"m":1152,"d":300},{"m":1156,"d":288},{"m":1160,"d":312},{"m":1164,"d":305},{"m":1168,"d":295},{"m":1172,"d":320},{"m":1176,"d":285},{"m":1180,"d":310},{"m":1184,"d":300},{"m":1188,"d":275},{"m":1192,"d":315},{"m":1196,"d":298},
      {"m":1200,"d":292},{"m":1204,"d":310},{"m":1208,"d":300},{"m":1212,"d":288},{"m":1216,"d":318},{"m":1220,"d":305},{"m":1224,"d":280},{"m":1228,"d":315},{"m":1232,"d":300},{"m":1236,"d":325},{"m":1240,"d":295},{"m":1244,"d":310},{"m":1248,"d":302},{"m":1252,"d":290},{"m":1256,"d":318},
      {"m":1260,"d":310},{"m":1264,"d":298},{"m":1268,"d":285},{"m":1272,"d":305},{"m":1276,"d":320},{"m":1280,"d":295},{"m":1284,"d":312},{"m":1288,"d":288},{"m":1292,"d":305},{"m":1296,"d":318},{"m":1300,"d":300},{"m":1304,"d":282},{"m":1308,"d":315},{"m":1312,"d":298},{"m":1316,"d":325},
      {"m":1320,"d":305},{"m":1324,"d":290},{"m":1328,"d":318},{"m":1332,"d":300},{"m":1336,"d":285},{"m":1340,"d":312},{"m":1344,"d":298},{"m":1348,"d":322},{"m":1352,"d":295},{"m":1356,"d":308},{"m":1360,"d":282},{"m":1364,"d":315},{"m":1368,"d":300},{"m":1372,"d":325},{"m":1376,"d":290},
      {"m":1380,"d":295},{"m":1384,"d":312},{"m":1388,"d":300},{"m":1392,"d":288},{"m":1396,"d":320},{"m":1400,"d":305},{"m":1404,"d":292},{"m":1408,"d":315},{"m":1412,"d":300},{"m":1416,"d":282},{"m":1420,"d":318},{"m":1424,"d":305},{"m":1428,"d":290},{"m":1432,"d":325},{"m":1436,"d":302},
      {"m":276,"d":5},{"m":350,"d":10},{"m":487,"d":27},{"m":712,"d":43},{"m":723,"d":15},{"m":787,"d":14},{"m":827,"d":25},{"m":876,"d":18},{"m":893,"d":13},{"m":925,"d":11},{"m":977,"d":38},{"m":955,"d":117},{"m":1087,"d":5},{"m":1105,"d":5},{"m":1121,"d":18},{"m":1167,"d":142},{"m":1261,"d":9},{"m":1304,"d":190},{"m":1317,"d":142},{"m":1388,"d":147},{"m":1413,"d":154},{"m":1429,"d":12},{"m":1439,"d":108},{"m":219,"d":145}
    ],
    "tab": [
      {"c":0,"r":0,"t":"Sensor"},{"c":2,"r":0,"t":"Windgeschw km/h"},{"c":7,"r":0,"t":"Windböen"},{"c":9,"r":0,"t":"km/h"},{"c":11,"r":0,"t":"Richtung"},
      {"c":0,"r":1,"t":"MinWert"},{"c":2,"r":1,"t":"Ø 10 min."},{"c":4,"r":1,"t":"7.7"},{"c":7,"r":1,"t":"Ø 10 min."},{"c":9,"r":1,"t":"15.7"},{"c":12,"r":1,"t":"04:36"},{"c":13,"r":1,"t":"N"},
      {"c":0,"r":2,"t":"MaxWert"},{"c":3,"r":2,"t":"00:03"},{"c":4,"r":2,"t":"S-SW 46.6"},{"c":8,"r":2,"t":"00:05"},{"c":9,"r":2,"t":"S-SO 68.9"},{"c":12,"r":2,"t":"05:44"},{"c":13,"r":2,"t":"N"},
      {"c":0,"r":3,"t":"Durchschnitt"},{"c":4,"r":3,"t":"9.9"},{"c":9,"r":3,"t":"18.5"},{"c":13,"r":3,"t":"W-NW"},
      {"c":0,"r":4,"t":"30.03.\u00a0\u00a023:59"},{"c":3,"r":4,"t":"2 Bft NW"},{"c":4,"r":4,"t":"11.4"},{"c":6,"r":4,"t":"3 Bft W-NW"},{"c":9,"r":4,"t":"19.1"},{"c":12,"r":4,"t":"317 °"},{"c":13,"r":4,"t":"NW"}
    ]
  },
  "resolve": {"scale": {"x": "independent", "y": "independent"}},
  "layer": [
    {
      "layer": [
        {
          "data": {"name": "bft"},
          "mark": {"type": "rule", "color": "#0000ff", "strokeWidth": 1.5},
          "encoding": {
            "y": {
              "field": "v", "type": "quantitative",
              "scale": {"domain": [0, 75], "nice": false, "zero": false},
              "axis": {
                "values": [0,5,10,15,20,25,30,35,40,45,50,55,60,65,70,75],
                "tickCount": 20,
                "format": ".1f",
                "title": "km/h", "titleColor": "#0000ff", "titleFontSize": 11, "titleFontWeight": "normal",
                "titleAngle": 0, "titleAlign": "left", "titleBaseline": "alphabetic", "titleX": -34, "titleY": -11,
                "grid": true, "gridDash": [4, 3], "gridColor": "#808080", "gridWidth": 1, "gridOpacity": 1,
                "domainColor": "#808080", "domainWidth": 3, "ticks": false,
                "labelColor": "#0000ff", "labelFontSize": 11, "labelPadding": 6,
                "labelOverlap": false, "labelFlush": false, "labelBound": false
              }
            }
          }
        },
        {
          "data": {"name": "bft"},
          "mark": {"type": "text", "align": "right", "baseline": "alphabetic", "dx": -13, "dy": -3, "fontSize": 11, "color": "#0000ff"},
          "encoding": {
            "x": {"datum": 1440, "type": "quantitative"},
            "y": {"field": "v", "type": "quantitative"},
            "text": {"field": "l"}
          }
        },
        {
          "data": {"name": "wind"},
          "mark": {"type": "line", "interpolate": "linear", "color": "#ff0000", "strokeWidth": 1.2},
          "encoding": {
            "x": {
              "field": "m", "type": "quantitative",
              "scale": {"domain": [0, 1440], "nice": false, "zero": false},
              "axis": {
                "title": null,
                "values": [0,60,120,180,240,300,360,420,480,540,600,660,720,780,840,900,960,1020,1080,1140,1200,1260,1320,1380,1440],
                "tickCount": 30,
                "labelExpr": "(datum.value < 600 ? '0' : '') + datum.value / 60 + ':00'",
                "grid": true, "gridDash": [4, 3], "gridColor": "#808080", "gridWidth": 1, "gridOpacity": 1,
                "domainColor": "#808080", "domainWidth": 3,
                "tickColor": "#a0a0a0", "tickSize": 3, "tickWidth": 1,
                "labelFontSize": 11, "labelColor": "#000000", "labelPadding": 4,
                "labelOverlap": false, "labelFlush": false, "labelBound": false
              }
            },
            "y": {"field": "g", "type": "quantitative"}
          }
        },
        {
          "data": {"name": "wind"},
          "mark": {"type": "line", "interpolate": "linear", "color": "#0000ff", "strokeWidth": 1.2},
          "encoding": {
            "x": {"field": "m", "type": "quantitative"},
            "y": {"field": "s", "type": "quantitative"}
          }
        },
        {
          "data": {"values": [{"m": 372}, {"m": 1022}]},
          "mark": {"type": "rule", "color": "#808080", "strokeWidth": 3},
          "encoding": {
            "x": {"field": "m", "type": "quantitative"},
            "y": {"datum": 1.5, "type": "quantitative"},
            "y2": {"datum": -0.4}
          }
        },
        {
          "data": {"values": [{"m": 423}, {"m": 1199}]},
          "mark": {"type": "rule", "color": "#ffff00", "strokeWidth": 3},
          "encoding": {
            "x": {"field": "m", "type": "quantitative"},
            "y": {"datum": 1.0, "type": "quantitative"},
            "y2": {"datum": -1.7}
          }
        },
        {
          "data": {"values": [{"m": 370, "m2": 377}, {"m": 1019, "m2": 1027}]},
          "mark": {"type": "rect", "color": "#000080"},
          "encoding": {
            "x": {"field": "m", "type": "quantitative"},
            "x2": {"field": "m2"},
            "y": {"datum": -3.8, "type": "quantitative"},
            "y2": {"datum": -5.8}
          }
        },
        {
          "data": {"values": [{"m": 6}, {"m": 423}]},
          "mark": {"type": "circle", "color": "#ffff00", "size": 45, "opacity": 1},
          "encoding": {
            "x": {"field": "m", "type": "quantitative"},
            "y": {"datum": -5, "type": "quantitative"}
          }
        },
        {
          "data": {"values": [{"m": 1200}]},
          "mark": {"type": "square", "filled": false, "color": "#ffff00", "size": 20, "strokeWidth": 1, "opacity": 1},
          "encoding": {
            "x": {"field": "m", "type": "quantitative"},
            "y": {"datum": -5, "type": "quantitative"}
          }
        },
        {
          "data": {"values": [{"m": 0, "t": "12:55"}, {"m": 423, "t": "07:03"}, {"m": 1199, "t": "19:59"}]},
          "mark": {"type": "text", "align": "right", "baseline": "middle", "fontSize": 11, "color": "#000000", "dx": -6},
          "encoding": {
            "x": {"field": "m", "type": "quantitative"},
            "y": {"datum": -5, "type": "quantitative"},
            "text": {"field": "t"}
          }
        },
        {
          "data": {"values": [{"m": 1027, "t": "17:03"}]},
          "mark": {"type": "text", "align": "left", "baseline": "middle", "fontSize": 11, "color": "#000000", "dx": 1},
          "encoding": {
            "x": {"field": "m", "type": "quantitative"},
            "y": {"datum": -5, "type": "quantitative"},
            "text": {"field": "t"}
          }
        },
        {
          "data": {"values": [{}]},
          "mark": {"type": "text", "text": "© private Wetterstation Tinnum/Westerland/Sylt", "align": "right", "baseline": "middle", "dx": 38, "dy": -36, "fontSize": 11, "color": "#ff0000"},
          "encoding": {
            "x": {"datum": 1440, "type": "quantitative"},
            "y": {"datum": 75, "type": "quantitative"}
          }
        },
        {
          "data": {"values": [{}]},
          "mark": {"type": "text", "text": "Montag, 30.03.2026", "align": "center", "baseline": "middle", "dx": 3, "dy": -33, "fontSize": 16, "color": "#000000"},
          "encoding": {
            "x": {"datum": 720, "type": "quantitative"},
            "y": {"datum": 75, "type": "quantitative"}
          }
        }
      ]
    },
    {
      "data": {"name": "dir"},
      "mark": {"type": "square", "size": 6, "filled": true, "opacity": 1},
      "encoding": {
        "x": {"field": "m", "type": "quantitative", "axis": null, "scale": {"domain": [0, 1440], "nice": false, "zero": false}},
        "y": {
          "field": "d", "type": "quantitative",
          "scale": {"domain": [0, 360], "nice": false, "zero": false},
          "axis": {
            "orient": "right", "title": null,
            "values": [0,20,40,60,80,100,120,140,160,180,200,220,240,260,280,300,320,340,360],
            "tickCount": 20,
            "labelExpr": "datum.value == 0 ? '0\u00a0\u00a0\u00a0N' : datum.value == 360 ? '360 N' : datum.value == 180 ? '180 S' : datum.value",
            "grid": false, "domain": false,
            "tickColor": "#808080", "tickSize": 6, "labelPadding": 2,
            "labelFontSize": 11, "labelColor": "#000000", "labelOverlap": false
          }
        },
        "fill": {
          "datum": "Richtung", "type": "nominal",
          "scale": {"domain": ["Windgeschw", "Richtung", "Windböen"], "range": ["#0000ff", "#000000", "#ff0000"]},
          "legend": {
            "orient": "none", "legendX": 10, "legendY": -16, "direction": "horizontal", "title": null,
            "symbolType": "square", "symbolSize": 100, "symbolStrokeWidth": 0,
            "labelFont": "Liberation Sans", "labelFontSize": 11, "labelOffset": 4, "labelLimit": 200,
            "columnPadding": 17, "gridAlign": "all", "padding": 0,
            "encode": {"labels": {"update": {"fill": {"signal": "datum.value === 'Richtung' ? '#000000' : '#0000ff'"}}}}
          }
        }
      }
    },
    {
      "layer": [
        {
          "data": {"name": "tab"},
          "mark": {
            "type": "text", "baseline": "middle", "color": "#000000",
            "align": {"expr": "datum.c == 4 || datum.c == 9 || datum.c == 13 ? 'right' : 'left'"},
            "fontWeight": {"expr": "datum.c == 0 || datum.r == 0 || (datum.r == 4 && (datum.c == 4 || datum.c == 9 || datum.c == 13)) ? 'bold' : 'normal'"},
            "fontSize": {"expr": "datum.c == 0 || datum.r == 0 || (datum.r == 4 && (datum.c == 4 || datum.c == 9 || datum.c == 13)) ? 11.5 : 11"}
          },
          "encoding": {
            "x": {"field": "c", "type": "quantitative", "axis": null, "scale": {"domain": [0,1,2,3,4,5,6,7,8,9,10,11,12,13,14], "range": [-32,48.5,408,414.3,512.5,519,523.3,526.5,532,631,637,645,650,748.5,756], "nice": false, "zero": false}},
            "y": {"field": "r", "type": "quantitative", "axis": null, "scale": {"domain": [0, 4], "range": [437, 500], "nice": false, "zero": false}},
            "text": {"field": "t"}
          }
        },
        {
          "data": {"values": [{"c": 1}, {"c": 5}, {"c": 10}, {"c": 14}]},
          "mark": {"type": "rule", "color": "#a0a0a0", "strokeWidth": 1},
          "encoding": {
            "x": {"field": "c", "type": "quantitative"},
            "y": {"datum": -0.85, "type": "quantitative"},
            "y2": {"datum": 4.3}
          }
        }
      ]
    }
  ]
}
